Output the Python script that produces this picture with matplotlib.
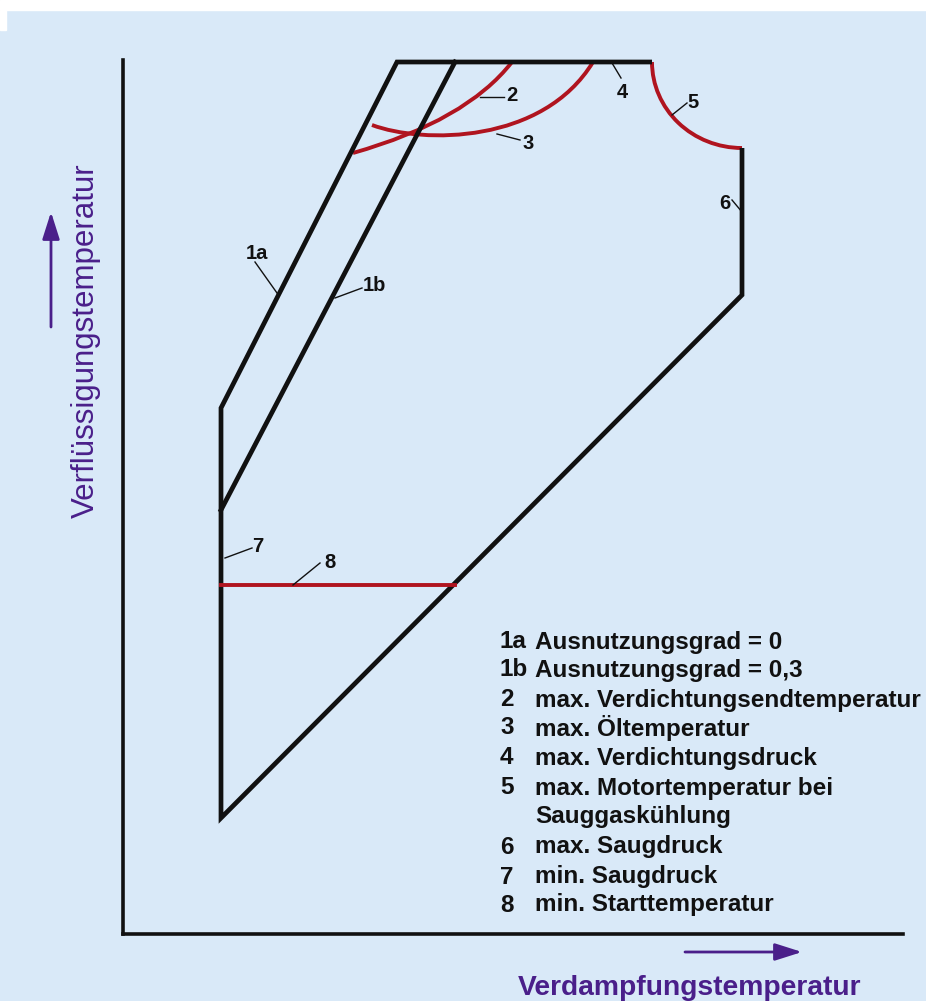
import matplotlib.pyplot as plt
from matplotlib.patches import Arc, PathPatch, Rectangle
from matplotlib.path import Path

plt.rcParams['font.family'] = ['Liberation Sans', 'DejaVu Sans']

# schematic operating envelope (units = px offset from axis origin)
# one continuous outline: end of curve 5 -> max. Saugdruck -> bottom -> 1a -> top
outline_x = [619, 619, 98, 98, 274, 529]
outline_y = [786, 639, 116, 526, 872, 872]
line1b_x = [98, 332]
line1b_y = [424, 872]
line8_x = [98, 332]
line8_y = [349, 349]
# curve 5: quarter ellipse, centre / radii
arc5 = (619, 872, 90, 86)
# curves 2 and 3 as bezier control points
curve2 = [(230, 781), (343, 813), (389, 872)]
curve3 = [(249, 809), (300, 790), (420, 790), (470, 872)]

# labels: text, text pos, leader start, leader end
labels = [
    ('1a', (134, 681), (132, 672), (154, 641)),
    ('1b', (251, 649), (212, 636), (239, 646)),
    ('2', (389, 839), (357, 837), (381, 837)),
    ('3', (405, 791), (374, 800), (397, 794)),
    ('4', (499, 842), (489, 871), (498, 856)),
    ('5', (570, 832), (549, 819), (564, 831)),
    ('6', (602, 731), (609, 734), (619, 722)),
    ('7', (135, 387), (102, 376), (129, 386)),
    ('8', (207, 372), (170, 349), (197, 371)),
]

legend_nums = ['1a', '1b', '2', '3', '4', '5', '', '6', '7', '8']
legend_texts = ['Ausnutzungsgrad = 0', 'Ausnutzungsgrad = 0,3',
                'max. Verdichtungsendtemperatur', 'max. Öltemperatur',
                'max. Verdichtungsdruck', 'max. Motortemperatur bei',
                'Sauggaskühlung', 'max. Saugdruck', 'min. Saugdruck',
                'min. Starttemperatur']
legend_y = [292, 264, 234, 206, 176, 146, 117, 87, 57, 29]

BLACK = '#111111'
RED = '#b0141f'
PURPLE = '#4a1f8a'

fig = plt.figure(figsize=(9.26, 10.01), dpi=100, facecolor='#d9e9f8')
fig.add_artist(Rectangle((0, 1 - 10 / 1001), 1, 10 / 1001,
                         transform=fig.transFigure, color='white', zorder=0))
fig.add_artist(Rectangle((0, 1 - 30 / 1001), 6 / 926, 20 / 1001,
                         transform=fig.transFigure, color='white', zorder=0))

ax = fig.add_axes([123 / 926, 67 / 1001, 780 / 926, 874 / 1001])
ax.set_xlim(0, 780)
ax.set_ylim(0, 874)
ax.set_facecolor('none')
for s in ['top', 'right']:
    ax.spines[s].set_visible(False)
for s in ['left', 'bottom']:
    ax.spines[s].set_linewidth(2.6)
    ax.spines[s].set_color(BLACK)
ax.set_xticks([])
ax.set_yticks([])

lw = 3.4
ax.plot(outline_x, outline_y, color=BLACK, lw=lw, clip_on=False,
        solid_joinstyle='miter', solid_capstyle='butt')
ax.plot(line1b_x, line1b_y, color=BLACK, lw=lw, clip_on=False)

red_lw = 2.8
ax.plot(line8_x, line8_y, color=RED, lw=red_lw, clip_on=False)
cx, cy, rx, ry = arc5
ax.add_patch(Arc((cx, cy), 2 * rx, 2 * ry, theta1=180, theta2=270,
                 color=RED, lw=red_lw, clip_on=False))
ax.add_patch(PathPatch(Path(curve2, [Path.MOVETO, Path.CURVE3, Path.CURVE3]),
                       fill=False, edgecolor=RED, lw=red_lw, clip_on=False))
ax.add_patch(PathPatch(Path(curve3, [Path.MOVETO] + [Path.CURVE4] * 3),
                       fill=False, edgecolor=RED, lw=red_lw, clip_on=False))

for txt, (tx, ty), (x0, y0), (x1, y1) in labels:
    ax.plot([x0, x1], [y0, y1], color=BLACK, lw=1.0, clip_on=False)
    ax.text(tx, ty, txt, fontsize=14.5, fontweight='bold', color=BLACK,
            ha='center', va='center')

for num, txt, y in zip(legend_nums, legend_texts, legend_y):
    ax.text(377, y, num, fontsize=17.5, fontweight='bold', color=BLACK,
            va='center', ha='left')
    ax.text(412, y, txt, fontsize=17.5, fontweight='bold', color=BLACK,
            va='center', ha='left', clip_on=False)

ax.text(567, -61, 'Verdampfungstemperatur', fontsize=20.3, fontweight='bold',
        color=PURPLE, ha='center', va='baseline')
ax.text(-37, 593, 'Verflüssigungstemperatur', fontsize=22.5,
        color=PURPLE, ha='center', va='center', rotation=90)

arrow = dict(arrowstyle='-|>,head_length=1.1,head_width=0.35',
             color=PURPLE, lw=2.0, mutation_scale=15, shrinkA=0, shrinkB=0)
ax.annotate('', xy=(679, -18), xytext=(562, -18), arrowprops=arrow,
            annotation_clip=False)
ax.annotate('', xy=(-72, 722), xytext=(-72, 607), arrowprops=arrow,
            annotation_clip=False)

fig.savefig('out.png', dpi=100, facecolor=fig.get_facecolor())
